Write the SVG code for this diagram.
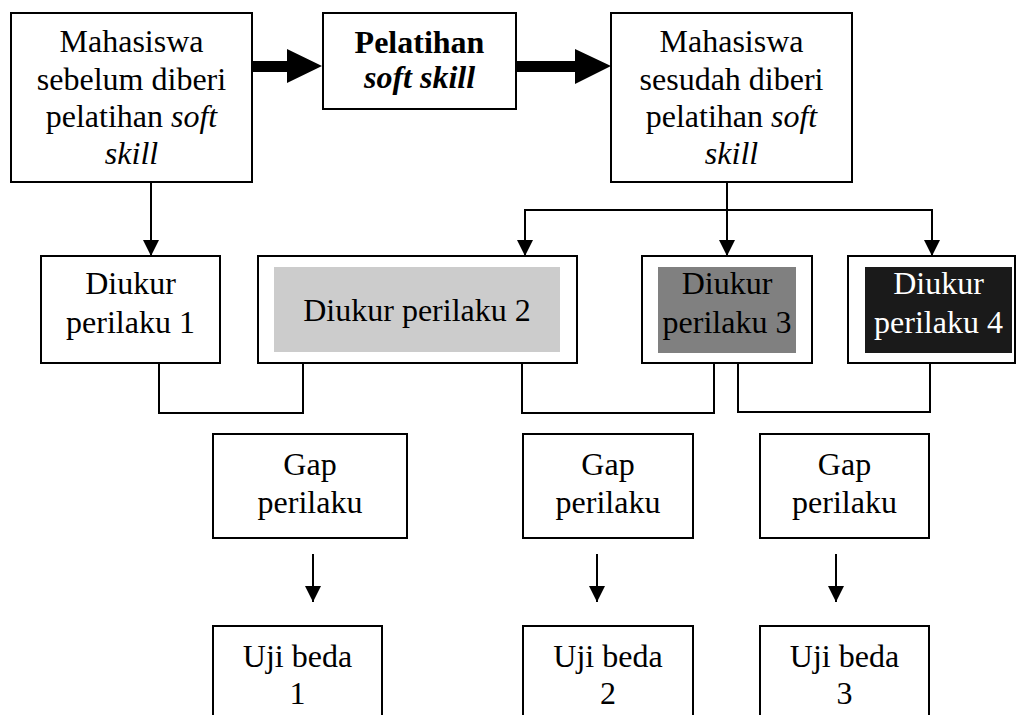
<svg xmlns="http://www.w3.org/2000/svg" width="1017" height="715" viewBox="0 0 1017 715">
<style>
.box{fill:#fff;stroke:#000;stroke-width:2}
.t{font-family:"Liberation Serif","Times New Roman",serif;font-size:32px;fill:#000;text-anchor:middle}
.w{fill:#fff}
.b{font-weight:bold}
.i{font-style:italic}
.ln{fill:none;stroke:#000;stroke-width:2}
.arr{marker-end:url(#ah)}
</style>
<defs>
<marker id="ah" viewBox="0 0 16 16" refX="16" refY="8" markerWidth="16" markerHeight="16" markerUnits="userSpaceOnUse" orient="auto">
<path d="M0,0 L16,8 L0,16 z" fill="#000"/>
</marker>
</defs>
<rect width="1017" height="715" fill="#fff"/>

<g id="connectors">
<polygon points="252,61 287,61 287,49 322,66 287,83 287,72 252,72" fill="#000"/>
<polygon points="516,61 575,61 575,49 611,66 575,84 575,72 516,72" fill="#000"/>
<line class="ln arr" x1="151" y1="182" x2="151" y2="256"/>
<line class="ln arr" x1="727" y1="182" x2="727" y2="256"/>
<polyline class="ln" points="525,240 525,210 932,210 932,240"/>
<line class="ln arr" x1="525" y1="210" x2="525" y2="256"/>
<line class="ln arr" x1="932" y1="210" x2="932" y2="256"/>
<polyline class="ln" points="159,363 159,413 303,413 303,363"/>
<polyline class="ln" points="522,363 522,413 714,413 714,364"/>
<polyline class="ln" points="738,364 738,412 930,412 930,363"/>
<line class="ln arr" x1="313" y1="554" x2="313" y2="602"/>
<line class="ln arr" x1="597" y1="554" x2="597" y2="602"/>
<line class="ln arr" x1="836" y1="554" x2="836" y2="602"/>
</g>

<g id="mhs-sebelum">
<rect class="box" x="11" y="13" width="241" height="169"/>
<text class="t" x="131.5" y="52">Mahasiswa</text>
<text class="t" x="131.5" y="90">sebelum diberi</text>
<text class="t" x="131.5" y="127">pelatihan <tspan class="i">soft</tspan></text>
<text class="t i" x="131.5" y="164">skill</text>
</g>

<g id="pelatihan">
<rect class="box" x="323" y="13" width="193" height="96"/>
<text class="t b" x="419.5" y="53">Pelatihan</text>
<text class="t b i" x="419.5" y="88">soft skill</text>
</g>

<g id="mhs-sesudah">
<rect class="box" x="611" y="13" width="241" height="169"/>
<text class="t" x="731.5" y="52">Mahasiswa</text>
<text class="t" x="731.5" y="90">sesudah diberi</text>
<text class="t" x="731.5" y="127">pelatihan <tspan class="i">soft</tspan></text>
<text class="t i" x="731.5" y="164">skill</text>
</g>

<g id="diukur1">
<rect class="box" x="41" y="256" width="179" height="107"/>
<text class="t" x="130.5" y="294">Diukur</text>
<text class="t" x="130.5" y="333">perilaku 1</text>
</g>

<g id="diukur2">
<rect class="box" x="258" y="256" width="319" height="107"/>
<rect x="274" y="267" width="286" height="85" fill="#cccccc"/>
<text class="t" x="417" y="321">Diukur perilaku 2</text>
</g>

<g id="diukur3">
<rect class="box" x="642" y="256" width="170" height="107"/>
<rect x="658" y="267" width="138" height="86" fill="#808080"/>
<text class="t" x="727" y="294">Diukur</text>
<text class="t" x="727" y="333">perilaku 3</text>
</g>

<g id="diukur4">
<rect class="box" x="848" y="256" width="167" height="107"/>
<rect x="865" y="267" width="147" height="86" fill="#1a1a1a"/>
<text class="t w" x="938.5" y="294">Diukur</text>
<text class="t w" x="938.5" y="333">perilaku 4</text>
</g>

<g id="gap1">
<rect class="box" x="213" y="434" width="194" height="104"/>
<text class="t" x="310" y="475">Gap</text>
<text class="t" x="310" y="513">perilaku</text>
</g>

<g id="gap2">
<rect class="box" x="523" y="434" width="170" height="104"/>
<text class="t" x="608" y="475">Gap</text>
<text class="t" x="608" y="513">perilaku</text>
</g>

<g id="gap3">
<rect class="box" x="760" y="434" width="169" height="104"/>
<text class="t" x="844.5" y="475">Gap</text>
<text class="t" x="844.5" y="513">perilaku</text>
</g>

<g id="uji1">
<rect class="box" x="213" y="626" width="169" height="110"/>
<text class="t" x="297.5" y="667">Uji beda</text>
<text class="t" x="297.5" y="704">1</text>
</g>

<g id="uji2">
<rect class="box" x="523" y="626" width="170" height="110"/>
<text class="t" x="608" y="667">Uji beda</text>
<text class="t" x="608" y="704">2</text>
</g>

<g id="uji3">
<rect class="box" x="760" y="626" width="169" height="110"/>
<text class="t" x="844.5" y="667">Uji beda</text>
<text class="t" x="844.5" y="704">3</text>
</g>
</svg>
